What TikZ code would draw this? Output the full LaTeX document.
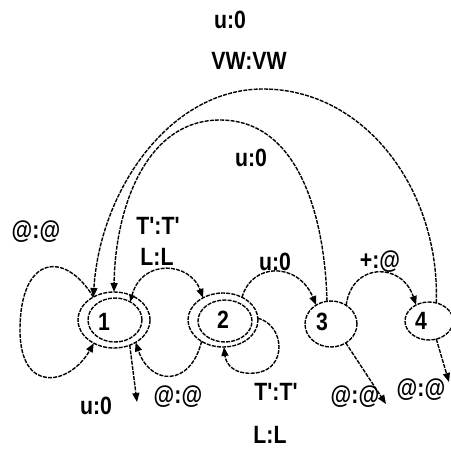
\documentclass[tikz,border=0pt]{standalone}
\usepackage{fontspec}
\newfontfamily\lblfont{Liberation Sans}[FakeStretch=0.85]
\usetikzlibrary{shapes.geometric,arrows.meta}
\begin{document}
\begin{tikzpicture}[x=1pt,y=1pt,
  ln/.style={line width=1.4pt, dash pattern=on 4pt off 1.2pt},
  st/.style={ellipse, draw, ln, outer sep=0pt, inner sep=0pt},
  tip/.style={-{Triangle[length=9pt,width=7pt]}},
  tr/.style={ln, tip},
  lbl/.style={font=\lblfont\bfseries\fontsize{25}{27}\selectfont, inner sep=0pt},
  ]
\useasboundingbox (0,0) rectangle (450,-452);

% states (1 and 2 are final: double outline)
\node[st, minimum width=72pt, minimum height=56pt,
      label={[lbl, xshift=-10pt, yshift=-2pt]center:1}] (n1) at (114,-320) {};
\node[st, minimum width=54pt, minimum height=44pt] (n1i) at (115,-320) {};
\node[st, minimum width=70pt, minimum height=54pt,
      label={[lbl]center:2}] (n2) at (223,-320) {};
\node[st, minimum width=54pt, minimum height=42pt] (n2i) at (225,-321) {};
\node[st, minimum width=52pt, minimum height=46pt,
      label={[lbl, xshift=-9pt, yshift=2pt]center:3}] (n3) at (331,-324) {};
\node[st, minimum width=48pt, minimum height=38pt,
      label={[lbl, xshift=-8pt]center:4}] (n4) at (429,-321) {};

% loose ends of the outgoing arrows
\coordinate (d1) at (137,-402);
\coordinate (d3) at (386,-404);
\coordinate (d4) at (449,-382);

% long arcs back to state 1
\draw[tr] (n4.68) .. controls (440,-190) and (365,-89) .. (263,-89)
          .. controls (170,-89) and (100,-190) .. (n1.132);
\draw[tr] (n3.100) .. controls (325,-220) and (300,-120) .. (220,-120)
          .. controls (145,-120) and (115,-210) .. (n1.90);

% self-loop on 1
\draw[tr] (n1.132) .. controls (65,-250) and (20,-255) .. (20,-330)
          .. controls (20,-395) and (70,-385) .. (n1.229);

% between 1 and 2
\draw[ln, {Triangle[length=7pt,width=5.5pt]}-{Triangle[length=9pt,width=7pt]}]
      (n1i.50) .. controls (142,-258) and (190,-262) .. (n2.132);
\draw[tr] (n2.225) .. controls (190,-388) and (150,-385) .. (n1.314);

% self-loop on 2
\draw[tr] (n2.3) .. controls (285,-325) and (288,-370) .. (255,-373)
          .. controls (235,-375) and (226,-365) .. (n2.272);

% forward chain
\draw[tr] (n2.50) .. controls (252,-262) and (298,-262) .. (n3.128);
\draw[tr] (n3.51) .. controls (352,-262) and (402,-262) .. (n4.129);

% outgoing arrows
\draw[tr] (n1.302) -- (d1);
\draw[tr] (n3.-52) -- (d3);
\draw[tr] (n4.-68) -- (d4);

% transition labels
\node[lbl] (l1)  at (230,-20)  {u:0};
\node[lbl] (l2)  at (249,-61)  {VW:VW};
\node[lbl] (l3)  at (251,-158) {u:0};
\node[lbl] (l4)  at (36,-232)  {@:@};
\node[lbl] (l5)  at (158,-226) {T':T'};
\node[lbl] (l6)  at (157,-257) {L:L};
\node[lbl] (l7)  at (275,-262) {u:0};
\node[lbl] (l8)  at (380,-262) {+:@};
\node[lbl] (l9)  at (96,-406)  {u:0};
\node[lbl] (l10) at (178,-397) {@:@};
\node[lbl] (l11) at (276,-392) {T':T'};
\node[lbl] (l12) at (270,-435) {L:L};
\node[lbl] (l13) at (355,-397) {@:@};
\node[lbl] (l14) at (421,-390) {@:@};
\end{tikzpicture}
\end{document}
